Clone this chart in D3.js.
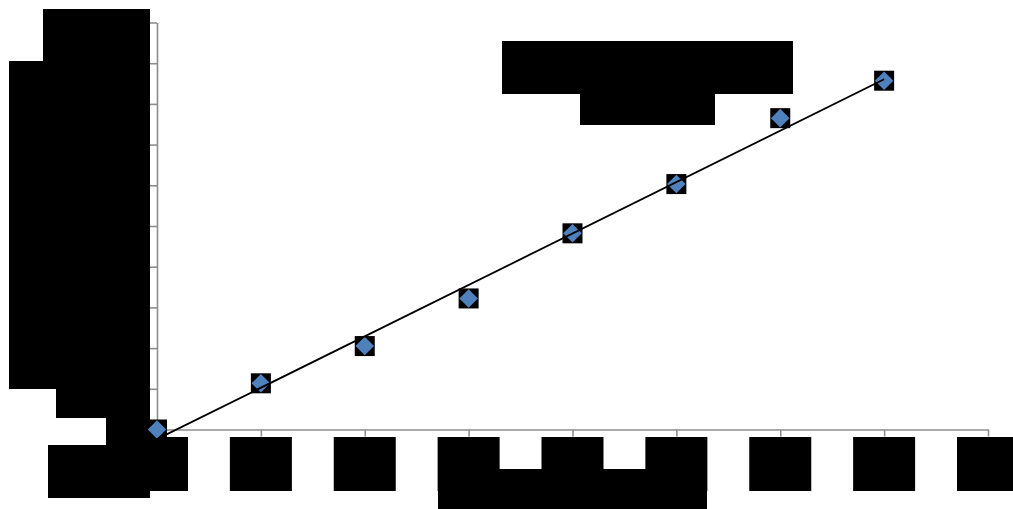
<!DOCTYPE html>
<html>
<head>
<meta charset="utf-8">
<script src="https://cdn.jsdelivr.net/npm/d3@7/dist/d3.min.js"></script>
<style>
  html, body { margin: 0; padding: 0; background: #fff; }
  svg { display: block; font-family: "Liberation Sans", Arial, sans-serif; }
</style>
</head>
<body>
<svg id="chart" width="1013" height="509"></svg>
<script>
// Measured series
const xValues = [0, 1, 2, 3, 4, 5, 6, 7];
const yValues = [0, 1.135, 2.05, 3.22, 4.82, 6.03, 7.65, 8.57];

// Axis ticks and labels
const xTicks = [0, 1, 2, 3, 4, 5, 6, 7, 8];
const yTicks = [0, 1, 2, 3, 4, 5, 6, 7, 8, 9, 10];
const xTitle = "x";
const yTitle = "y";

const svg = d3.select("#chart");
const W = 1013, H = 509;
const plot = { left: 157, right: 988, top: 22.5, bottom: 429.5 };

const x = d3.scaleLinear().domain([0, 8]).range([plot.left, plot.right]);
const y = d3.scaleLinear().domain([0, 10]).range([plot.bottom, plot.top]);

// Least-squares trendline
const n = xValues.length;
const mx = d3.mean(xValues), my = d3.mean(yValues);
let sxy = 0, sxx = 0, syy = 0;
for (let i = 0; i < n; i++) {
  sxy += (xValues[i] - mx) * (yValues[i] - my);
  sxx += (xValues[i] - mx) ** 2;
  syy += (yValues[i] - my) ** 2;
}
const slope = sxy / sxx;
const intercept = my - slope * mx;
const r2 = (sxy * sxy) / (sxx * syy);

svg.append("rect").attr("width", W).attr("height", H).attr("fill", "#fff");

const axisColor = "#8e8e8e";

// Y axis
const yAxis = svg.append("g")
  .attr("transform", `translate(${plot.left},0)`)
  .call(d3.axisLeft(y).tickValues(yTicks).tickSize(7).tickSizeOuter(0).tickFormat(d3.format("d")));
// X axis
const xAxis = svg.append("g")
  .attr("transform", `translate(0,${plot.bottom})`)
  .call(d3.axisBottom(x).tickValues(xTicks).tickSize(7).tickSizeOuter(0).tickFormat(d3.format("d")));

[yAxis, xAxis].forEach(g => {
  g.select(".domain").attr("stroke", axisColor).attr("stroke-width", 1.6);
  g.selectAll(".tick line").attr("stroke", axisColor).attr("stroke-width", 1.6);
  g.selectAll(".tick text").remove();
});

// Label plates (labels are set in black on solid black blocks)
const ink = "#000";
const labels = svg.append("g");

// left block: y tick labels and y title
const leftBlocks = [
  [43, 9, 107, 52], [9, 61, 141, 328], [56, 389, 94, 29], [106, 418, 44, 27], [48, 445, 102, 53]
];
labels.selectAll("rect.left").data(leftBlocks).join("rect")
  .attr("x", d => d[0]).attr("y", d => d[1]).attr("width", d => d[2]).attr("height", d => d[3])
  .attr("fill", ink);
labels.selectAll("text.ytick").data(yTicks).join("text")
  .attr("x", 146).attr("y", d => y(d)).attr("dy", "0.35em")
  .attr("text-anchor", "end").attr("font-size", 26).attr("fill", ink).text(d => d);
labels.append("text")
  .attr("transform", `translate(40,${(61 + 389) / 2}) rotate(-90)`)
  .attr("text-anchor", "middle").attr("font-size", 30).attr("fill", ink).text(yTitle);

// x tick label plates
labels.selectAll("rect.xtick").data(xTicks).join("rect")
  .attr("x", d => x(d) - 31).attr("y", 437)
  .attr("width", d => Math.min(62, W - (x(d) - 31))).attr("height", 54)
  .attr("fill", ink);
labels.selectAll("text.xtick").data(xTicks).join("text")
  .attr("x", d => x(d)).attr("y", 455).attr("dy", "0.35em")
  .attr("text-anchor", "middle").attr("font-size", 22).attr("fill", ink).text(d => d);

// x title plate
labels.append("rect").attr("x", 438).attr("y", 469).attr("width", 269).attr("height", 40).attr("fill", ink);
labels.append("text").attr("x", 572).attr("y", 492).attr("dy", "0.35em")
  .attr("text-anchor", "middle").attr("font-size", 22).attr("fill", ink).text(xTitle);

// Trendline equation and R²
const eq = `y = ${slope.toFixed(4)}x ${intercept < 0 ? "-" : "+"} ${Math.abs(intercept).toFixed(4)}`;
const r2txt = `R² = ${r2.toFixed(4)}`;
labels.append("rect").attr("x", 502).attr("y", 41).attr("width", 291).attr("height", 53).attr("fill", ink);
labels.append("rect").attr("x", 580).attr("y", 93).attr("width", 135).attr("height", 32).attr("fill", ink);
labels.append("text").attr("x", 647).attr("y", 67).attr("dy", "0.35em")
  .attr("text-anchor", "middle").attr("font-size", 30).attr("fill", ink).text(eq);
labels.append("text").attr("x", 647).attr("y", 109).attr("dy", "0.35em")
  .attr("text-anchor", "middle").attr("font-size", 24).attr("fill", ink).text(r2txt);

// Points: black plate + blue diamond
const pts = xValues.map((v, i) => ({ x: v, y: yValues[i] }));
const marks = svg.append("g");
marks.selectAll("rect").data(pts).join("rect")
  .attr("x", d => x(d.x) - 10).attr("y", d => y(d.y) - 10)
  .attr("width", 20).attr("height", 20).attr("fill", ink);
const diamond = d3.symbol().type(d3.symbolDiamond2).size(220);
marks.selectAll("path").data(pts).join("path")
  .attr("transform", d => `translate(${x(d.x)},${y(d.y)})`)
  .attr("d", diamond)
  .attr("fill", "#4f81bd");

// Trendline over the data range
const x0 = d3.min(xValues), x1 = d3.max(xValues);
svg.append("line")
  .attr("x1", x(x0)).attr("y1", y(slope * x0 + intercept))
  .attr("x2", x(x1)).attr("y2", y(slope * x1 + intercept))
  .attr("stroke", "#000").attr("stroke-width", 1.8);
</script>
</body>
</html>
